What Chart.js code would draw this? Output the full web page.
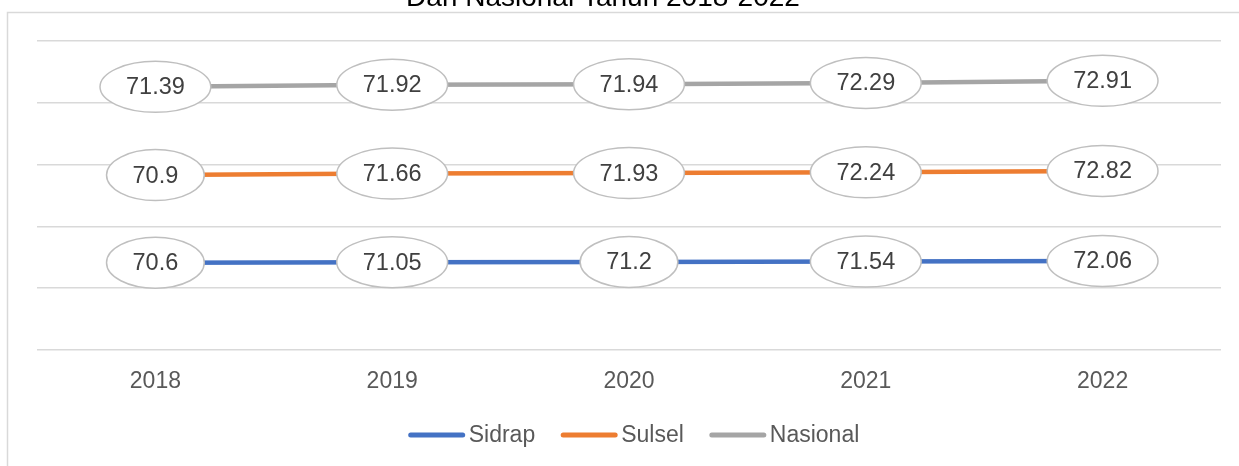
<!DOCTYPE html>
<html>
<head>
<meta charset="utf-8">
<script src="https://cdn.jsdelivr.net/npm/chart.js@4"></script>
<style>
    html, body { margin: 0; padding: 0; background: #ffffff; }
    #wrap { width: 1239px; height: 466px; position: relative; }
</style>
</head>
<body>
<div id="wrap"><canvas id="chart"></canvas></div>
<script>
    // data
    const years = ["2018", "2019", "2020", "2021", "2022"];
    const sidrap = [70.6, 71.05, 71.2, 71.54, 72.06];
    const sulsel = [70.9, 71.66, 71.93, 72.24, 72.82];
    const nasional = [71.39, 71.92, 71.94, 72.29, 72.91];
    const seriesNames = ["Sidrap", "Sulsel", "Nasional"];
    const seriesColors = ["#4472C4", "#ED7D31", "#A5A5A5"];
    const titleText = "Dari Nasional Tahun 2018-2022";

    const FONT = '"Liberation Sans", Arial, sans-serif';

    // frame + cut-off title
    const framePlugin = {
        id: "frame",
        beforeDraw(chart) {
            const ctx = chart.ctx;
            ctx.save();
            ctx.strokeStyle = "#d9d9d9";
            ctx.lineWidth = 1.5;
            ctx.strokeRect(7.5, 12.5, 1260, 500);
            ctx.fillStyle = "#000000";
            ctx.font = "28px " + FONT;
            ctx.textAlign = "center";
            ctx.textBaseline = "alphabetic";
            ctx.fillText(titleText, 603, 6);
            ctx.restore();
        }
    };

    // ellipse callouts with the raw values
    const ellipseLabels = {
        id: "ellipseLabels",
        afterDatasetsDraw(chart) {
            const ctx = chart.ctx;
            ctx.save();
            ctx.font = "23.5px " + FONT;
            ctx.textAlign = "center";
            ctx.textBaseline = "middle";
            chart.data.datasets.forEach((ds, di) => {
                const meta = chart.getDatasetMeta(di);
                meta.data.forEach((pt, i) => {
                    const txt = String(ds.data[i]);
                    const w = ctx.measureText(txt).width;
                    const rx = (w + 52) / 2;
                    const ry = 25.5;
                    ctx.beginPath();
                    ctx.ellipse(pt.x, pt.y, rx, ry, 0, 0, Math.PI * 2);
                    ctx.fillStyle = "#ffffff";
                    ctx.fill();
                    ctx.lineWidth = 1.5;
                    ctx.strokeStyle = "#bfbfbf";
                    ctx.stroke();
                    ctx.fillStyle = "#404040";
                    ctx.fillText(txt, pt.x, pt.y + 1);
                });
            });
            ctx.restore();
        }
    };

    // legend drawn by hand, centered under the plot
    const lineLegend = {
        id: "lineLegend",
        afterDraw(chart) {
            const ctx = chart.ctx;
            ctx.save();
            ctx.font = "23px " + FONT;
            ctx.textBaseline = "middle";
            ctx.textAlign = "left";
            const lineLen = 56, gapText = 4, gapItem = 26;
            const widths = seriesNames.map(n => lineLen + gapText + ctx.measureText(n).width);
            const total = widths.reduce((a, b) => a + b, 0) + gapItem * (widths.length - 1);
            let x = 634 - total / 2;
            const y = 435;
            seriesNames.forEach((name, i) => {
                ctx.beginPath();
                ctx.moveTo(x + 2, y);
                ctx.lineTo(x + lineLen - 2, y);
                ctx.strokeStyle = seriesColors[i];
                ctx.lineWidth = 5;
                ctx.lineCap = "round";
                ctx.stroke();
                ctx.fillStyle = "#595959";
                ctx.fillText(name, x + lineLen + gapText, y + 1);
                x += widths[i] + gapItem;
            });
            ctx.restore();
        }
    };

    const allSeries = [sidrap, sulsel, nasional];

    new Chart(document.getElementById("chart"), {
        type: "line",
        data: {
            labels: years,
            datasets: allSeries.map((vals, i) => ({
                label: seriesNames[i],
                data: vals,
                borderColor: seriesColors[i],
                backgroundColor: seriesColors[i],
                borderWidth: 4.5,
                pointRadius: 0,
                fill: false,
                tension: 0
            }))
        },
        options: {
            responsive: true,
            maintainAspectRatio: false,
            animation: false,
            layout: { padding: { left: 37, right: 18, top: 41, bottom: 0 } },
            plugins: {
                legend: { display: false },
                title: { display: false },
                tooltip: { enabled: false }
            },
            scales: {
                x: {
                    offset: true,
                    grid: { display: false, drawTicks: false },
                    border: { display: false },
                    ticks: {
                        color: "#595959",
                        font: { family: FONT, size: 23 },
                        padding: 18
                    },
                    afterFit: s => { s.height = 116; }
                },
                y: {
                    stacked: true,
                    min: 0,
                    max: 250,
                    ticks: { display: false, stepSize: 50 },
                    grid: { color: "#d9d9d9", lineWidth: 1.5, drawTicks: false },
                    border: { display: false },
                    afterFit: s => { s.width = 0; }
                }
            }
        },
        plugins: [framePlugin, ellipseLabels, lineLegend]
    });
</script>
</body>
</html>
